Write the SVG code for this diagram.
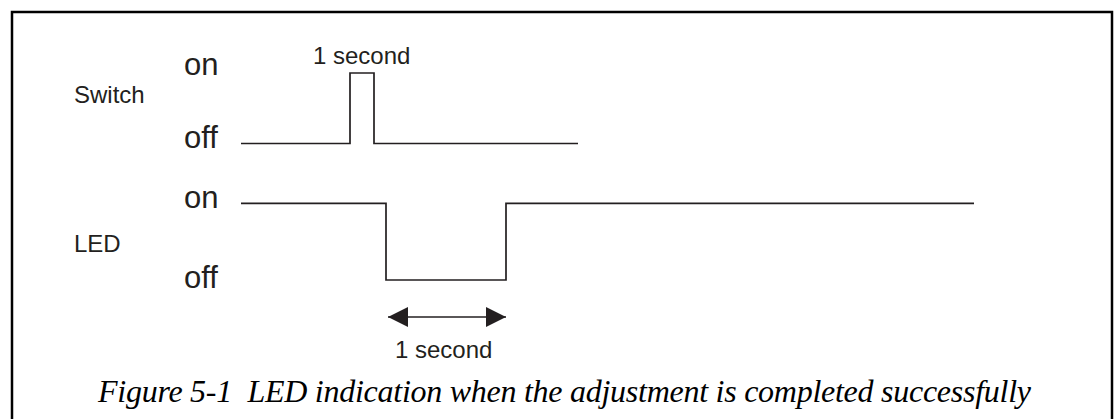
<svg xmlns="http://www.w3.org/2000/svg" width="1115" height="419" viewBox="0 0 1115 419">
  <style>
    .lbl { font-family: "Liberation Sans", Arial, sans-serif; fill: #231f20; }
    .state { font-size: 31px; }
    .name { font-size: 24px; }
    .note { font-size: 24px; }
    .sig { fill: none; stroke: #231f20; stroke-width: 1.7; stroke-linejoin: miter; }
    .cap { font-family: "Liberation Serif", "Times New Roman", serif; font-style: italic; font-size: 32px; fill: #000; }
  </style>
  <defs>
    <marker id="head" markerUnits="userSpaceOnUse" markerWidth="21" markerHeight="21" refX="20" refY="10" orient="auto-start-reverse">
      <path d="M0,0 L20,10 L0,20 Z" fill="#231f20"/>
    </marker>
  </defs>
  <rect x="0" y="0" width="1115" height="419" fill="#fff"/>
  <g id="frame">
    <rect x="12" y="12" width="1100" height="430" fill="none" stroke="#000" stroke-width="2.5"/>
  </g>
  <g id="switch-labels">
    <text class="lbl name" x="74" y="103">Switch</text>
    <text class="lbl state" x="184" y="75">on</text>
    <text class="lbl state" x="184" y="148">off</text>
    <text class="lbl note" x="313" y="64">1 second</text>
  </g>
  <g id="led-labels">
    <text class="lbl name" x="74" y="252">LED</text>
    <text class="lbl state" x="184" y="208">on</text>
    <text class="lbl state" x="184" y="288">off</text>
    <text class="lbl note" x="395" y="358">1 second</text>
  </g>
  <g id="connectors">
    <polyline id="switch-signal" class="sig" points="241,143.5 350,143.5 350,73 374,73 374,143.5 578,143.5"/>
    <polyline id="led-signal" class="sig" points="241,203.3 386,203.3 386,280 506,280 506,203.3 974,203.3"/>
    <line id="duration" x1="388" y1="317" x2="506" y2="317" stroke="#231f20" stroke-width="1.7" marker-start="url(#head)" marker-end="url(#head)"/>
  </g>
  <g id="caption">
    <text class="cap" x="98" y="402" textLength="933" lengthAdjust="spacing" xml:space="preserve">Figure 5-1  LED indication when the adjustment is completed successfully</text>
  </g>
</svg>
